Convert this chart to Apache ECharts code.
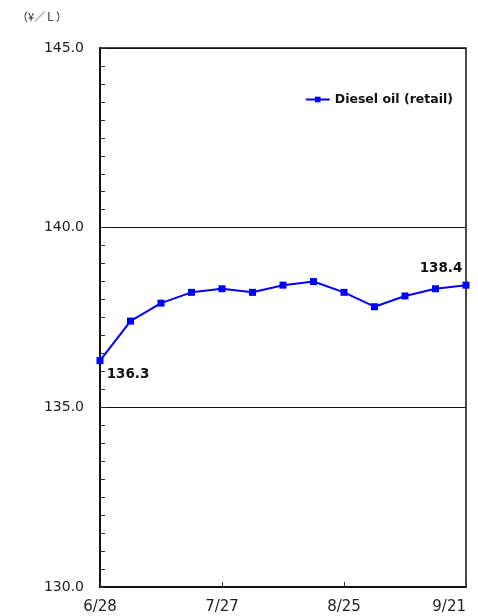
<!DOCTYPE html>
<html>
<head>
<meta charset="utf-8">
<script src="https://cdn.jsdelivr.net/npm/echarts@6/dist/echarts.min.js"></script>
<style>
  html, body { margin: 0; padding: 0; background: #fff; }
  #chart { width: 478px; height: 616px; }
</style>
</head>
<body>
<div id="chart"></div>
<script>
// Weekly retail diesel price, yen per litre
const weeks = ['6/28', '7/6', '7/13', '7/20', '7/27', '8/3', '8/10', '8/17', '8/25', '8/31', '9/7', '9/14', '9/21'];
const dieselRetail = [136.3, 137.4, 137.9, 138.2, 138.3, 138.2, 138.4, 138.5, 138.2, 137.8, 138.1, 138.3, 138.4];
const seriesName = 'Diesel oil (retail)';
const unitLabel = '（¥／Ｌ）';

const FONT = '"DejaVu Sans", sans-serif';
const lastIdx = dieselRetail.length - 1;

const chart = echarts.init(document.getElementById('chart'), null, { renderer: 'canvas' });

const seriesData = dieselRetail.map((v, i) => {
  if (i === 0) {
    return { value: v, label: { show: true, position: 'bottom', offset: [28, -2] } };
  }
  if (i === lastIdx) {
    return { value: v, label: { show: true, position: 'top', offset: [-25, -1] } };
  }
  return v;
});

chart.setOption({
  animation: false,
  backgroundColor: '#fff',
  title: {
    text: unitLabel,
    left: 12,
    top: 6,
    textStyle: { fontFamily: '"Noto Sans CJK JP", sans-serif', fontSize: 11, fontWeight: 'normal', color: '#222' }
  },
  legend: {
    data: [seriesName],
    right: 20,
    top: 88,
    itemWidth: 24,
    itemHeight: 7,
    itemGap: 4,
    textStyle: { fontFamily: FONT, fontSize: 12.5, fontWeight: 'bold', color: '#111' }
  },
  grid: {
    left: 100,
    right: 12,
    top: 48,
    bottom: 29,
    outerBoundsMode: 'none',
    containLabel: false,
    show: true,
    borderColor: '#111',
    borderWidth: 1.5,
    backgroundColor: 'transparent'
  },
  xAxis: {
    type: 'category',
    data: weeks,
    boundaryGap: false,
    axisLine: { show: true, lineStyle: { color: '#111', width: 2 } },
    axisTick: { show: true, inside: true, interval: 3, length: 5, lineStyle: { color: '#333' } },
    axisLabel: {
      interval: 3,
      margin: 13,
      fontFamily: FONT,
      fontSize: 15,
      color: '#222',
      alignMaxLabel: 'right'
    },
    splitLine: { show: false }
  },
  yAxis: {
    type: 'value',
    min: 130,
    max: 145,
    interval: 5,
    axisLine: { show: true, lineStyle: { color: '#111', width: 2 } },
    axisTick: { show: true, inside: true, length: 5, lineStyle: { color: '#333' } },
    minorTick: { show: true, splitNumber: 10, length: 5, lineStyle: { color: '#333' } },
    axisLabel: {
      margin: 16,
      fontFamily: FONT,
      fontSize: 14,
      color: '#222',
      formatter: v => v.toFixed(1)
    },
    splitLine: { show: true, lineStyle: { color: '#111', width: 1 } }
  },
  series: [{
    name: seriesName,
    type: 'line',
    data: seriesData,
    color: '#0000ff',
    lineStyle: { color: '#0000ff', width: 2 },
    itemStyle: { color: '#0000ff' },
    symbol: 'rect',
    symbolSize: 7,
    showAllSymbol: true,
    label: {
      show: false,
      fontFamily: FONT,
      fontSize: 13.5,
      fontWeight: 'bold',
      color: '#111',
      formatter: p => p.value.toFixed(1)
    }
  }]
});
</script>
</body>
</html>
